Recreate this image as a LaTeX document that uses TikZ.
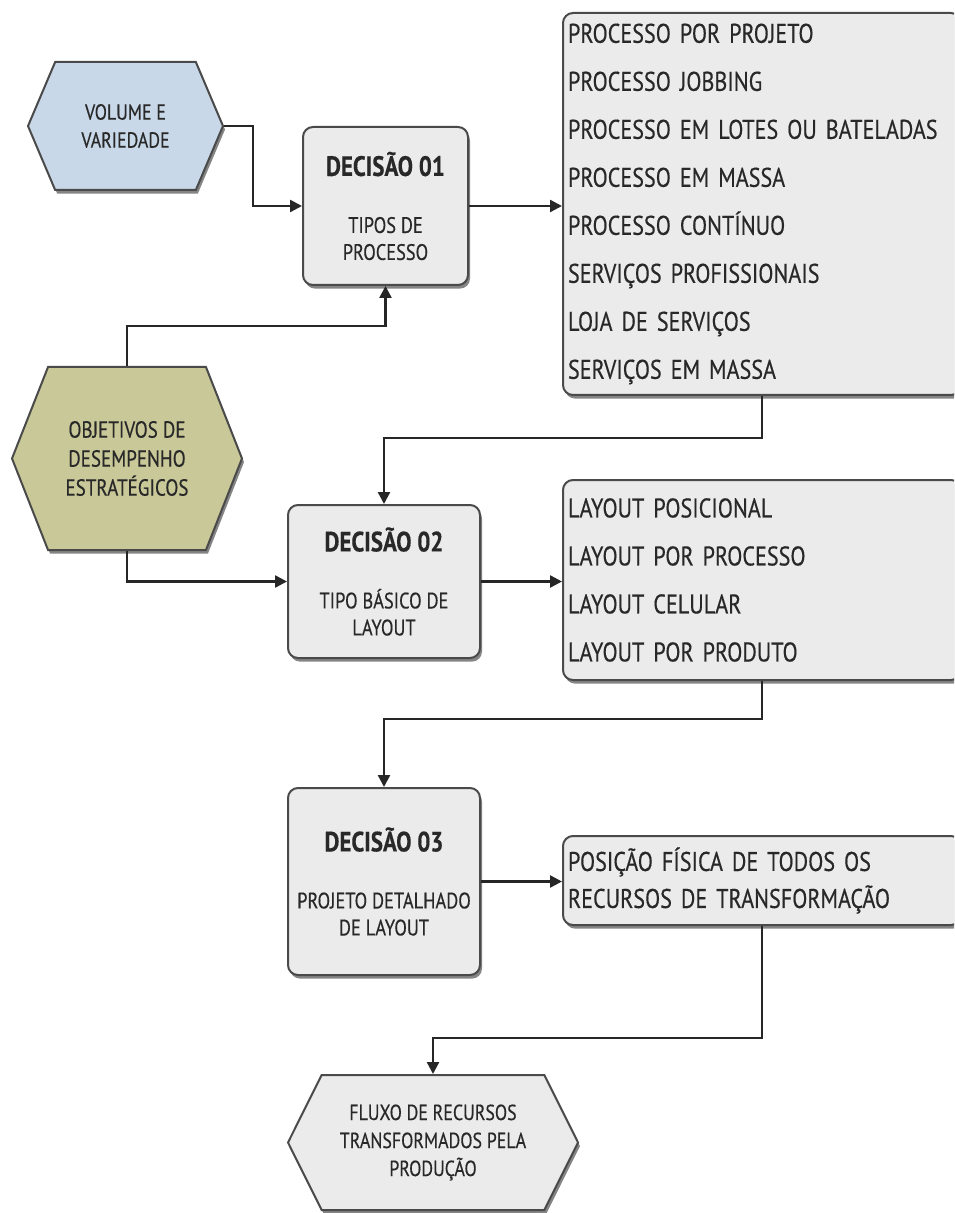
\documentclass[tikz,border=0pt]{standalone}
\usepackage{fontspec}
\setmainfont{PT Sans}[FakeStretch=0.82, FakeBold=0.4]
\usetikzlibrary{shapes.symbols,shadows,arrows.meta}
\definecolor{boxgray}{HTML}{EBEBEB}
\definecolor{volblue}{HTML}{C8D8E8}
\definecolor{objolive}{HTML}{C8C898}
\definecolor{edgegray}{HTML}{4A4A4A}
\definecolor{inkgray}{HTML}{282828}
\newcommand{\dtitle}[1]{{\fontsize{14}{16}\selectfont\bfseries #1}}
\begin{document}
\begin{tikzpicture}[x=0.5pt, y=-0.5pt,
  shadowed/.style = {drop shadow={shadow xshift=1pt, shadow yshift=-1.8pt,
    fill=black!60, opacity=.8}},
  decision/.style = {draw=edgegray, line width=1pt, fill=boxgray,
    rounded corners=5pt, shadowed, align=center, text=inkgray,
    font=\fontsize{11.2}{13.5}\selectfont},
  options/.style = {draw=edgegray, line width=1pt, fill=boxgray,
    rounded corners=5pt, shadowed, align=left, text=inkgray,
    minimum width=199pt, text width=194pt, inner xsep=2.5pt},
  hexa/.style = {signal, signal to=west and east, draw=edgegray,
    line width=1pt, shadowed, align=center, text=inkgray,
    font=\fontsize{10.9}{14}\selectfont},
  flow/.style = {draw=black!85, line width=1.2pt,
    -{Triangle[length=6pt,width=6pt]}}]
 \useasboundingbox (0,0) rectangle (954,1213);
 \clip (0,0) rectangle (954,1213);
 % inputs
 \node[hexa, fill=volblue, minimum width=97.5pt, minimum height=64pt,
   signal pointer angle=134] (vol) at (125.5,126) {VOLUME E\\VARIEDADE};
 \node[hexa, fill=objolive, minimum width=115pt, minimum height=91.5pt,
   signal pointer angle=137, font=\fontsize{11.6}{14.5}\selectfont]
   (obj) at (127,458.5) {OBJETIVOS DE\\DESEMPENHO\\ESTRATÉGICOS};
 % decisions
 \node[decision, minimum width=82.5pt, minimum height=79pt] (d1) at (385.5,206)
   {\dtitle{DECISÃO 01}\\[15pt]TIPOS DE\\PROCESSO};
 \node[decision, minimum width=96pt, minimum height=76.5pt] (d2) at (384,581.5)
   {\dtitle{DECISÃO 02}\\[15pt]TIPO BÁSICO DE\\LAYOUT};
 \node[decision, minimum width=96pt, minimum height=93.5pt] (d3) at (384,881.5)
   {\dtitle{DECISÃO 03}\\[15pt]PROJETO DETALHADO\\DE LAYOUT};
 % options
 \node[options, minimum height=191pt, font=\fontsize{13.5}{24}\selectfont]
   (l1) at (762,204) {PROCESSO POR PROJETO\\PROCESSO JOBBING\\
   PROCESSO EM LOTES OU BATELADAS\\PROCESSO EM MASSA\\PROCESSO CONTÍNUO\\
   SERVIÇOS PROFISSIONAIS\\LOJA DE SERVIÇOS\\SERVIÇOS EM MASSA};
 \node[options, minimum height=100pt, font=\fontsize{13.5}{24}\selectfont]
   (l2) at (762,580) {LAYOUT POSICIONAL\\LAYOUT POR PROCESSO\\
   LAYOUT CELULAR\\LAYOUT POR PRODUTO};
 \node[options, minimum height=44.5pt, font=\fontsize{13.5}{18.5}\selectfont]
   (l3) at (762,880.5) {POSIÇÃO FÍSICA DE TODOS OS\\
   RECURSOS DE TRANSFORMAÇÃO};
 % output
 \node[hexa, fill=boxgray, minimum width=145pt, minimum height=67.5pt,
   signal pointer angle=127] (flx) at (433,1142.5)
   {FLUXO DE RECURSOS\\TRANSFORMADOS PELA\\PRODUÇÃO};
 % connectors
 \draw[flow] (vol.east) -- ++(29,0) |- (d1.west);
 \draw[flow] (obj.north) -- ++(0,-40) -| (d1.south);
 \draw[flow] (obj.south) |- (d2.west);
 \draw[flow] (d1.east) -- (d1.east -| l1.west);
 \draw[flow] (l1.south) -- ++(0,42) -| (d2.north);
 \draw[flow] (d2.east) -- (d2.east -| l2.west);
 \draw[flow] (l2.south) -- ++(0,38) -| (d3.north);
 \draw[flow] (d3.east) -- (d3.east -| l3.west);
 \draw[flow] (l3.south) -- ++(0,112) -| (flx.north);
\end{tikzpicture}
\end{document}
